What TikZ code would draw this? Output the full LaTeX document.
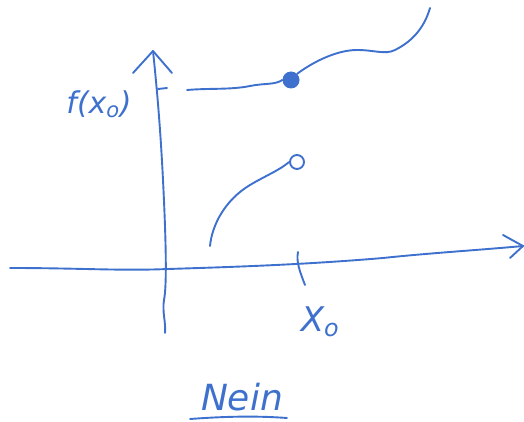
\documentclass[tikz,border=0pt]{standalone}
\usepackage{fontspec}
\setmainfont{DejaVu Sans}
\begin{document}
\begin{tikzpicture}[x=1pt,y=-1pt,
  ink/.style={draw=penblue,line width=1.9pt,line cap=round,line join=round},
  lbl/.style={text=penblue,inner sep=0pt}]
\definecolor{penblue}{RGB}{62,112,205}
\useasboundingbox (0,0) rectangle (524,422);
% axes
\coordinate (xs) at (10,268);
\coordinate (xe) at (523,246);
\draw[ink] (xs) .. controls (80,268) and (120,271) .. (168,269)
  .. controls (230,267) and (300,265) .. (383,258)
  .. controls (430,253) and (480,250) .. (xe);
\draw[ink] (503,235) -- (xe) -- (510,258);
\coordinate (ys) at (165,333);
\coordinate (ye) at (153,51);
\draw[ink] (ys) .. controls (166,322) and (162,312) .. (164,300)
  .. controls (167,285) and (166,240) .. (163,180)
  .. controls (160,120) and (156,80) .. (ye);
\draw[ink] (133,73) -- (ye) -- (172,73);
% ticks
\draw[ink] (158,89) -- (167,88);
\draw[ink] (298,252) .. controls (296,262) and (300,272) .. (305,285);
% left branch with open circle
\node[circle,draw=penblue,line width=1.9pt,minimum size=14pt,inner sep=0pt] (open) at (297,162) {};
\coordinate (ls) at (210,246);
\draw[ink] (ls) .. controls (212,225) and (225,200) .. (250,185)
  .. controls (265,176) and (280,170) .. (open.west);
% function value dot
\node[circle,fill=penblue,minimum size=17pt,inner sep=0pt] (dot) at (291,80) {};
\coordinate (hs) at (187,90);
\draw[ink] (hs) .. controls (210,88) and (230,90) .. (250,86)
  .. controls (265,83) and (275,85) .. (dot.west);
% right branch
\coordinate (re) at (430,8);
\draw[ink] (dot.north east) .. controls (310,64) and (335,50) .. (357,50)
  .. controls (375,50) and (385,55) .. (395,50)
  .. controls (415,40) and (425,25) .. (re);
% labels
\node[lbl,font=\fontsize{30}{34}\selectfont\itshape] (fx) at (99,104) {f(x\textsubscript{o})};
\node[lbl,font=\fontsize{34}{38}\selectfont\itshape] (x0) at (320,322) {X\textsubscript{o}};
\node[lbl,font=\fontsize{36}{42}\selectfont\itshape] (nein) at (242,397) {Nein};
\draw[ink] (190,419) .. controls (230,416) and (260,416) .. (287,418);
\end{tikzpicture}
\end{document}
